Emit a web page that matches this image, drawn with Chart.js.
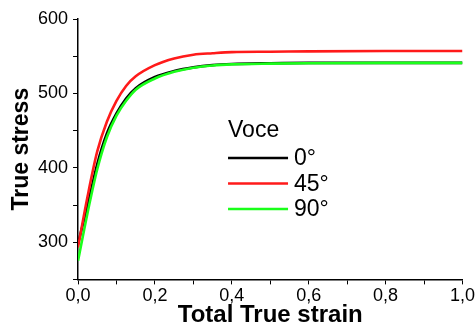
<!DOCTYPE html>
<html>
<head>
<meta charset="utf-8">
<script src="https://cdn.jsdelivr.net/npm/chart.js@4"></script>
<style>
    html, body { margin: 0; padding: 0; background: #fff; }
    #wrap { width: 476px; height: 324px; }
</style>
</head>
<body>
<div id="wrap"><canvas id="voce-chart" width="476" height="324"></canvas></div>
<script>
// data
const strain = [0, 0.025, 0.05, 0.075, 0.1, 0.125, 0.15, 0.2, 0.25, 0.3, 0.35, 0.4, 0.5, 0.6, 0.8, 1.0];
const stress0 = [298, 350, 405, 446, 473, 493, 507, 522, 530, 535, 538, 539.5, 540.5, 541, 541, 541];
const stress45 = [293, 362, 422, 462, 490, 510, 523, 538, 547, 552, 554, 555.5, 556, 556.5, 557, 557];
const stress90 = [275, 340, 398, 441, 470, 490, 505, 520, 529, 534.5, 537.5, 539, 540, 540.5, 541, 541];
const seriesLabels = ['0°', '45°', '90°'];
const legendTitle = 'Voce';
const xTicks = [0, 0.2, 0.4, 0.6, 0.8, 1.0];
const yTicks = [300, 400, 500, 600];

const FONT = '"Liberation Sans", Arial, sans-serif';

window.addEventListener('load', function () {
    voceChart();
});

function toPoints(ys) {
    return strain.map((x, i) => ({ x: x, y: ys[i] }));
}

// legend drawn inside the plot, like the original
const insideLegend = {
    id: 'insideLegend',
    afterDatasetsDraw(chart) {
        const ctx = chart.ctx;
        const area = chart.chartArea;
        const left = area.left + 150;
        const top = area.top + 112;
        ctx.save();
        ctx.fillStyle = '#000';
        ctx.font = '23px ' + FONT;
        ctx.textBaseline = 'middle';
        ctx.textAlign = 'left';
        ctx.fillText(legendTitle, left, top);
        const sets = chart.data.datasets;
        sets.forEach((set, i) => {
            const y = top + 27 + i * 25.5;
            ctx.strokeStyle = set.borderColor;
            ctx.lineWidth = 2.5;
            ctx.beginPath();
            ctx.moveTo(left, y);
            ctx.lineTo(left + 60, y);
            ctx.stroke();
            ctx.fillText(set.label, left + 66, y + 1);
        });
        ctx.restore();
    }
};

function voceChart() {
    const ctx = document.getElementById('voce-chart').getContext('2d');
    const chart = new Chart(ctx, {
        type: 'line',
        data: {
            datasets: [
                { label: seriesLabels[0], data: toPoints(stress0), borderColor: '#000000', order: 2 },
                { label: seriesLabels[1], data: toPoints(stress45), borderColor: '#ff1a1a', order: 1 },
                { label: seriesLabels[2], data: toPoints(stress90), borderColor: '#1aff1a', order: 0 }
            ].map(d => Object.assign(d, {
                borderWidth: 2.6,
                pointRadius: 0,
                fill: false,
                cubicInterpolationMode: 'monotone'
            }))
        },
        options: {
            responsive: false,
            animation: false,
            layout: { padding: { top: 19, right: 0, left: 10, bottom: 0 } },
            plugins: {
                legend: { display: false },
                tooltip: { enabled: false }
            },
            scales: {
                x: {
                    type: 'linear',
                    min: 0,
                    max: 1,
                    ticks: {
                        stepSize: 0.1,
                        color: '#000',
                        font: { family: FONT, size: 18 },
                        maxRotation: 0,
                        padding: 1,
                        callback: v => xTicks.some(t => Math.abs(t - v) < 1e-6) ? v.toFixed(1).replace('.', ',') : ''
                    },
                    grid: { drawOnChartArea: false, tickLength: 5, color: '#000', lineWidth: 1 },
                    border: { color: '#000', width: 1.5 },
                    title: {
                        display: true,
                        text: 'Total True strain',
                        color: '#000',
                        font: { family: FONT, size: 24, weight: 'bold', lineHeight: 1 },
                        padding: { top: -5, bottom: -3 }
                    }
                },
                y: {
                    min: 250,
                    max: 600,
                    ticks: {
                        stepSize: 50,
                        color: '#000',
                        font: { family: FONT, size: 18 },
                        padding: 5,
                        callback: v => yTicks.includes(v) ? String(v) : ''
                    },
                    grid: { drawOnChartArea: false, tickLength: 5, color: '#000', lineWidth: 1 },
                    border: { color: '#000', width: 1.5 },
                    title: {
                        display: true,
                        text: 'True stress',
                        color: '#000',
                        font: { family: FONT, size: 23, weight: 'bold', lineHeight: 1 },
                        padding: { top: 0, bottom: 0 }
                    }
                }
            }
        },
        plugins: [insideLegend]
    });
}
</script>
</body>
</html>
